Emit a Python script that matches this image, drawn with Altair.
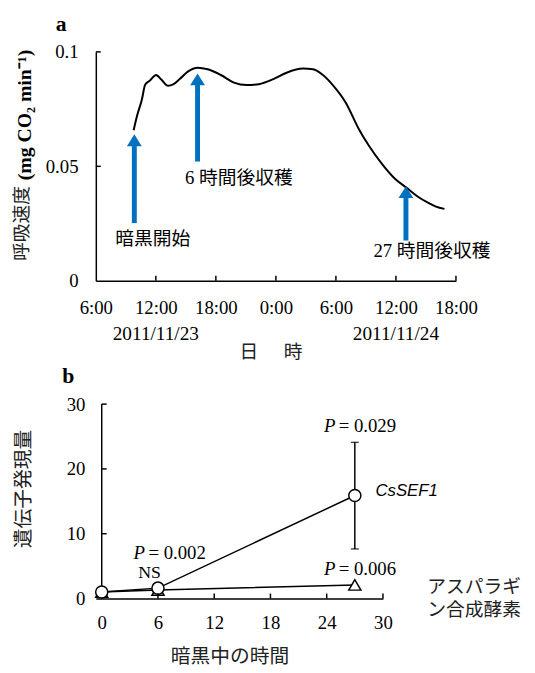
import json
import altair as alt
import pandas as pd

# ---------------- Panel a data ----------------
hours = [3.78, 4.11, 4.6, 4.93, 5.42, 6.02, 6.57, 7.23, 7.73, 8.38, 9.2, 10.19,
         11.18, 12.5, 13.8, 15.1, 16.4, 17.75, 19.07, 20.7, 21.7, 22.7, 23.67,
         25.0, 26.3, 27.3, 28.6, 29.9, 31.07, 32.2, 33.2, 34.0, 34.85]
resp = [0.0658, 0.0719, 0.0791, 0.0856, 0.0875, 0.0899, 0.0878, 0.0852, 0.0858,
        0.0881, 0.0914, 0.0931, 0.0924, 0.0899, 0.0866, 0.0855, 0.0860, 0.0881,
        0.0909, 0.0927, 0.0924, 0.0899, 0.0856, 0.0777, 0.0662, 0.0590, 0.0511,
        0.0446, 0.0406, 0.0367, 0.0341, 0.0324, 0.0314]
x_tick_hours = [0, 6, 12, 18, 24, 30, 36]
x_tick_labels = ["6:00", "12:00", "18:00", "0:00", "6:00", "12:00", "18:00"]
y_ticks_a = [0, 0.05, 0.1]
y_tick_labels_a = ["0", "0.05", "0.1"]
date_labels = ["2011/11/23", "2011/11/24"]
date_hours = [6, 30]
arrow_hours = [3.85, 10.17, 31.0]
arrow_tail = [0.0252, 0.0521, 0.0176]
arrow_tip = [0.0640, 0.0906, 0.0413]
note_text = ["暗黒開始", "6 時間後収穫", "27 時間後収穫"]
note_hours = [5.7, 14.3, 33.6]
note_val = [0.0181, 0.0448, 0.0129]

# ---------------- Panel b data ----------------
time_b = [0, 6, 27]
sef1 = [1.0, 1.6, 15.9]
asn = [1.0, 1.3, 2.1]
err_time = [27]
err_low = [7.65]
err_high = [24.1]
x_ticks_b = [0, 6, 12, 18, 24, 30]
y_ticks_b = [0, 10, 20, 30]
p_text = ["= 0.029", "= 0.002", "= 0.006"]
p_x = [23.7, 3.4, 23.7]
p_y = [26.6, 7.0, 4.57]

SERIF = "Liberation Serif"
JP = "Noto Sans CJK JP"
MIX = "Liberation Serif, Noto Sans CJK JP"
BLUE = "#0070C0"
JPCOL = "#222222"

W_A, H_A = 365, 232
W_B, H_B = 291, 197

def labexpr(labels, step):
    return json.dumps(labels, ensure_ascii=False) + "[round(datum.value/" + str(step) + ")]"

ax_common = dict(grid=False, ticks=False, domainColor="black", domainWidth=1.5,
                 labelColor="black", labelFont=SERIF, labelFontSize=19, title=None,
                 labelOverlap=False, labelFlush=False)

xa_scale = alt.Scale(domain=[0, 36], nice=False, zero=False)
ya_scale = alt.Scale(domain=[0, 0.1], nice=False)
xa_axis = alt.Axis(values=x_tick_hours, labelExpr=labexpr(x_tick_labels, 6),
                   labelPadding=18, **ax_common)
ya_axis = alt.Axis(values=y_ticks_a, labelExpr=labexpr(y_tick_labels_a, 0.05),
                   labelPadding=18, **ax_common)

def XA(field):
    return alt.X(field, type="quantitative", scale=xa_scale, axis=xa_axis)

def YA(field):
    return alt.Y(field, type="quantitative", scale=ya_scale, axis=ya_axis)

curve_df = pd.DataFrame({"h": hours, "v": resp})
line_a = alt.Chart(curve_df).mark_line(color="black", strokeWidth=2, interpolate="monotone").encode(
    x=XA("h"), y=YA("v"))

arr_df = pd.DataFrame({"h": arrow_hours, "tail": arrow_tail, "tip": arrow_tip})
shaft = alt.Chart(arr_df).mark_rule(color=BLUE, strokeWidth=5, y2Offset=10).encode(
    x=XA("h"), y=YA("tail"), y2="tip:Q")
head = alt.Chart(arr_df).mark_point(shape="M0,-0.8L-1,0.8L1,0.8Z", size=225, filled=True,
                                    color=BLUE, opacity=1, strokeWidth=0, yOffset=6).encode(
    x=XA("h"), y=YA("tip"))

note_df = pd.DataFrame({"h": note_hours, "v": note_val, "t": note_text})
notes = alt.Chart(note_df).mark_text(font=MIX, fontSize=19, color="black", align="center",
                                     baseline="middle").encode(
    x=XA("h"), y=YA("v"), text="t:N")

xt_a = alt.Chart(pd.DataFrame({"h": x_tick_hours[1:]})).mark_rule(
    color="black", strokeWidth=1.5, y2Offset=-5).encode(
    x=XA("h"), y=alt.YDatum(0, scale=ya_scale, axis=ya_axis), y2=alt.Y2Datum(0))
yt_a = alt.Chart(pd.DataFrame({"v": y_ticks_a[1:]})).mark_rule(
    color="black", strokeWidth=1.5, x2Offset=5).encode(
    y=YA("v"), x=alt.XDatum(0, scale=xa_scale, axis=xa_axis), x2=alt.X2Datum(0))

date_df = pd.DataFrame({"h": date_hours, "t": date_labels})
dates = alt.Chart(date_df).mark_text(font=SERIF, fontSize=19.5, color="black",
                                     baseline="middle").encode(
    x=XA("h"), y=alt.value(H_A + 54), text="t:N")

def ptext(t, px, py, font, size, weight="normal", angle=0, style="normal", align="center",
          color="black", **extra):
    kw = dict(font=font, fontSize=size, fontWeight=weight, color=color, align=align,
              baseline="middle", fontStyle=style, **extra)
    if angle:
        kw["angle"] = angle
    return alt.Chart(pd.DataFrame({"t": [t]})).mark_text(**kw).encode(
        x=alt.value(px), y=alt.value(py), text="t:N")

# white (invisible on the white page) layout anchor fixing the top-left bound
anchor = alt.Chart(pd.DataFrame({"k": [0]})).mark_rule(color="white", strokeWidth=1).encode(
    x=alt.value(-88.5), y=alt.value(-39.5), y2=alt.value(-30))

a_label = ptext("a", -35, -28, SERIF, 22, weight="bold")
ytitle_jp = ptext("呼吸速度", -75, 174, JP, 19, angle=270, color=JPCOL)
ytitle_unit = ptext("(mg CO₂ min⁻¹)", -72, 64, SERIF, 20, weight="bold", angle=270)
xt1 = ptext("日", 155, 304, JP, 19, color=JPCOL)
xt2 = ptext("時", 200, 304, JP, 19, color=JPCOL)

panel_a = alt.layer(anchor, line_a, shaft, head, notes, xt_a, yt_a, dates,
                    a_label, ytitle_jp, ytitle_unit, xt1, xt2).properties(width=W_A, height=H_A)

# ---------------- Panel b ----------------
xb_scale = alt.Scale(domain=[-0.63, 30], nice=False, zero=False)
yb_scale = alt.Scale(domain=[0, 30], nice=False)
xb_axis = alt.Axis(values=x_ticks_b, format="d", labelPadding=15, **ax_common)
yb_common = dict(ax_common)
yb_common["domain"] = False
yb_axis = alt.Axis(values=y_ticks_b, format="d", labelPadding=11, **yb_common)

def XB(field):
    return alt.X(field, type="quantitative", scale=xb_scale, axis=xb_axis)

def YB(field):
    return alt.Y(field, type="quantitative", scale=yb_scale, axis=yb_axis)

b_df = pd.DataFrame({"t": time_b * 2, "v": sef1 + asn,
                     "g": ["CsSEF1"] * 3 + ["asn"] * 3})
err_df = pd.DataFrame({"t": err_time, "lo": err_low, "hi": err_high})

# y-axis line drawn at x = 0
yline_b = alt.Chart(pd.DataFrame({"lo": [y_ticks_b[0]], "hi": [y_ticks_b[-1]]})).mark_rule(
    color="black", strokeWidth=1.5).encode(
    x=alt.XDatum(0, scale=xb_scale, axis=xb_axis), y=YB("lo"), y2="hi:Q")

lines_b = alt.Chart(b_df).mark_line(color="black", strokeWidth=1.5).encode(
    x=XB("t"), y=YB("v"), detail="g:N")
errbar = alt.Chart(err_df).mark_rule(color="black", strokeWidth=1.5).encode(
    x=XB("t"), y=YB("lo"), y2="hi:Q")
cap_lo = alt.Chart(err_df).mark_tick(color="black", orient="horizontal", size=8, thickness=1.5).encode(
    x=XB("t"), y=YB("lo"))
cap_hi = alt.Chart(err_df).mark_tick(color="black", orient="horizontal", size=8, thickness=1.5).encode(
    x=XB("t"), y=YB("hi"))
tri = alt.Chart(b_df[b_df.g == "asn"]).mark_point(shape="triangle-up", size=150, filled=True,
                                                  fill="white", stroke="black", strokeWidth=1.5,
                                                  opacity=1).encode(
    x=XB("t"), y=YB("v"))
circ = alt.Chart(b_df[b_df.g == "CsSEF1"]).mark_point(shape="circle", size=150, filled=True,
                                                      fill="white", stroke="black", strokeWidth=1.5,
                                                      opacity=1).encode(
    x=XB("t"), y=YB("v"))

xt_b = alt.Chart(pd.DataFrame({"t": x_ticks_b[1:]})).mark_rule(
    color="black", strokeWidth=1.5, y2Offset=-5).encode(
    x=XB("t"), y=alt.YDatum(0, scale=yb_scale, axis=yb_axis), y2=alt.Y2Datum(0))
yt_b = alt.Chart(pd.DataFrame({"v": y_ticks_b[1:]})).mark_rule(
    color="black", strokeWidth=1.5, x2Offset=5).encode(
    y=YB("v"), x=alt.XDatum(0, scale=xb_scale, axis=xb_axis), x2=alt.X2Datum(0))

p_df = pd.DataFrame({"x": p_x, "y": p_y, "t": p_text})
p_italic = alt.Chart(p_df).mark_text(font=SERIF, fontSize=19, fontStyle="italic", color="black",
                                     align="left", baseline="middle").encode(
    x=XB("x"), y=YB("y"), text=alt.value("P"))
p_rest = alt.Chart(p_df).mark_text(font=SERIF, fontSize=19, color="black", align="left",
                                   baseline="middle", dx=15).encode(
    x=XB("x"), y=YB("y"), text="t:N")

lab_df = pd.DataFrame({"x": [29.2], "y": [16.6], "t": ["CsSEF1"]})
sef_lab = alt.Chart(lab_df).mark_text(font="Liberation Sans", fontSize=17, fontStyle="italic",
                                      color="black", align="left", baseline="middle").encode(
    x=XB("x"), y=YB("y"), text="t:N")
ns_df = pd.DataFrame({"x": [5.1], "y": [3.96], "t": ["NS"]})
ns_lab = alt.Chart(ns_df).mark_text(font=SERIF, fontSize=18, color="black", align="center",
                                    baseline="middle").encode(
    x=XB("x"), y=YB("y"), text="t:N")

b_label = ptext("b", -28, -28, SERIF, 22, weight="bold")
ytitle_b = ptext("遺伝子発現量", -73, 86, JP, 20, angle=270, color=JPCOL)
xtitle_b = ptext("暗黒中の時間", 136, 256, JP, 20, color=JPCOL)
asn_lab = ptext("アスパラギ\nン合成酵素", 336, 185, JP, 19, align="left", color=JPCOL,
                lineBreak="\n", lineHeight=24)

panel_b = alt.layer(yline_b, lines_b, errbar, cap_lo, cap_hi, tri, circ, xt_b, yt_b, p_italic,
                    p_rest, sef_lab, ns_lab, b_label, ytitle_b, xtitle_b, asn_lab).properties(
    width=W_B, height=H_B)

chart = alt.vconcat(panel_a, panel_b, spacing=125, bounds="flush").configure_view(
    stroke=None).properties(padding={"left": 0, "top": 0, "right": 5, "bottom": 0})

chart.save("out.html", embed_options={"renderer": "svg", "actions": False})
